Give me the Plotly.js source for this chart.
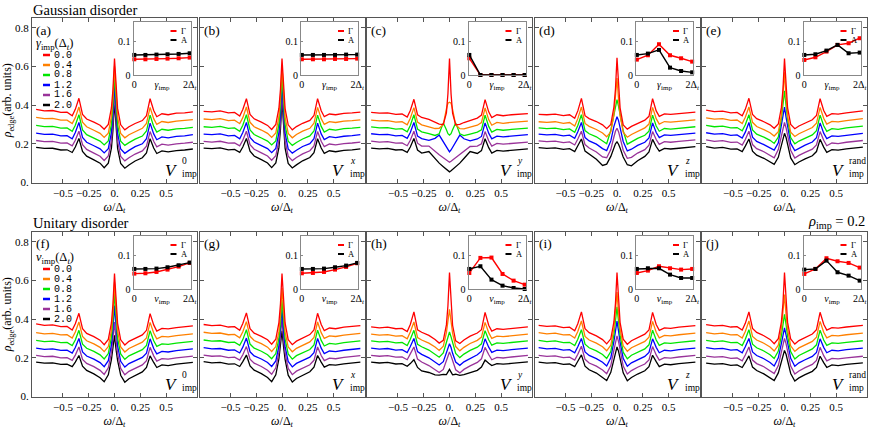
<!DOCTYPE html>
<html><head><meta charset="utf-8">
<script src="https://cdn.plot.ly/plotly-3.0.1.min.js"></script>
<style>html,body{margin:0;padding:0;background:#fff}</style>
</head><body><div id="chart" style="width:872px;height:430px"></div>
<script>
// ---------------- data ----------------
const omega = [-0.76,-0.68,-0.6,-0.52,-0.46,-0.41,-0.38,-0.345,-0.31,-0.27,-0.2,-0.14,-0.1,-0.06,-0.03,-0.015,0,0.015,0.03,0.06,0.1,0.14,0.2,0.27,0.31,0.345,0.38,0.41,0.46,0.52,0.6,0.68,0.76];
const disorderValues = ['0.0','0.4','0.8','1.2','1.6','2.0'];
const insetX = [0,0.4,0.8,1.2,1.6,2.0];
const panelLetters = ['(a)','(b)','(c)','(d)','(e)','(f)','(g)','(h)','(i)','(j)'];
const potentialSup = ['0','x','y','z','rand','0','x','y','z','rand'];

// Gaussian disorder, V0
const G_V0 = [
[0.378,0.370,0.372,0.362,0.363,0.345,0.378,0.435,0.352,0.328,0.312,0.296,0.275,0.300,0.385,0.480,0.640,0.478,0.383,0.298,0.272,0.288,0.305,0.320,0.345,0.433,0.372,0.340,0.355,0.350,0.358,0.360,0.365],
[0.336,0.330,0.331,0.322,0.322,0.305,0.335,0.390,0.312,0.288,0.270,0.254,0.233,0.255,0.340,0.440,0.600,0.438,0.338,0.253,0.231,0.247,0.264,0.280,0.305,0.388,0.330,0.300,0.315,0.310,0.317,0.320,0.325],
[0.295,0.289,0.290,0.281,0.282,0.265,0.296,0.350,0.272,0.247,0.229,0.214,0.194,0.215,0.300,0.400,0.560,0.398,0.298,0.213,0.192,0.206,0.224,0.240,0.266,0.348,0.290,0.260,0.275,0.270,0.277,0.280,0.285],
[0.255,0.249,0.250,0.241,0.242,0.226,0.258,0.310,0.233,0.208,0.190,0.174,0.153,0.175,0.258,0.355,0.510,0.352,0.255,0.173,0.151,0.166,0.185,0.200,0.226,0.307,0.251,0.221,0.236,0.231,0.238,0.241,0.247],
[0.217,0.211,0.212,0.203,0.204,0.189,0.218,0.265,0.196,0.171,0.152,0.136,0.114,0.137,0.215,0.310,0.460,0.308,0.213,0.135,0.112,0.128,0.147,0.163,0.188,0.263,0.213,0.184,0.198,0.193,0.200,0.203,0.208],
[0.182,0.176,0.177,0.168,0.169,0.155,0.183,0.228,0.161,0.136,0.117,0.100,0.076,0.100,0.178,0.270,0.420,0.268,0.176,0.098,0.074,0.090,0.111,0.128,0.153,0.226,0.178,0.150,0.163,0.158,0.165,0.168,0.173]];
// Gaussian disorder, Vx
const G_Vx = [
[0.368,0.365,0.370,0.360,0.362,0.344,0.377,0.433,0.352,0.329,0.312,0.295,0.274,0.300,0.384,0.480,0.640,0.478,0.382,0.298,0.272,0.289,0.306,0.321,0.346,0.433,0.371,0.340,0.354,0.350,0.357,0.360,0.364],
[0.328,0.325,0.330,0.320,0.322,0.304,0.335,0.390,0.311,0.288,0.271,0.254,0.233,0.256,0.340,0.440,0.600,0.438,0.338,0.254,0.231,0.248,0.265,0.280,0.306,0.388,0.330,0.300,0.314,0.310,0.317,0.320,0.324],
[0.288,0.285,0.290,0.280,0.282,0.265,0.296,0.350,0.272,0.248,0.230,0.214,0.194,0.215,0.300,0.398,0.555,0.396,0.298,0.213,0.192,0.207,0.225,0.241,0.266,0.348,0.290,0.260,0.275,0.271,0.278,0.281,0.285],
[0.250,0.247,0.251,0.241,0.243,0.226,0.258,0.310,0.233,0.209,0.191,0.175,0.154,0.176,0.258,0.355,0.510,0.352,0.255,0.174,0.152,0.167,0.186,0.201,0.226,0.307,0.251,0.222,0.237,0.232,0.239,0.242,0.247],
[0.212,0.209,0.213,0.203,0.205,0.189,0.218,0.265,0.196,0.172,0.153,0.137,0.115,0.138,0.217,0.313,0.465,0.311,0.215,0.136,0.113,0.129,0.148,0.164,0.189,0.263,0.213,0.185,0.199,0.194,0.201,0.204,0.209],
[0.178,0.175,0.179,0.169,0.171,0.156,0.183,0.228,0.162,0.137,0.118,0.101,0.077,0.101,0.180,0.273,0.425,0.271,0.178,0.099,0.075,0.091,0.112,0.129,0.154,0.226,0.178,0.151,0.164,0.159,0.166,0.169,0.174]];
// Gaussian disorder, Vy
const G_Vy = [
[0.362,0.358,0.360,0.352,0.354,0.338,0.372,0.430,0.350,0.336,0.326,0.312,0.302,0.300,0.360,0.460,0.640,0.458,0.358,0.298,0.300,0.310,0.322,0.333,0.348,0.428,0.365,0.335,0.350,0.345,0.350,0.352,0.356],
[0.322,0.318,0.320,0.312,0.314,0.298,0.332,0.387,0.312,0.298,0.288,0.279,0.280,0.300,0.380,0.410,0.415,0.410,0.378,0.298,0.278,0.277,0.286,0.296,0.310,0.385,0.325,0.296,0.311,0.306,0.311,0.313,0.317],
[0.287,0.282,0.284,0.276,0.278,0.262,0.295,0.350,0.276,0.262,0.253,0.243,0.252,0.308,0.272,0.252,0.245,0.252,0.272,0.308,0.252,0.242,0.250,0.260,0.272,0.348,0.290,0.260,0.274,0.270,0.274,0.277,0.281],
[0.252,0.247,0.249,0.241,0.243,0.228,0.258,0.310,0.240,0.227,0.218,0.228,0.245,0.208,0.182,0.168,0.158,0.168,0.182,0.208,0.245,0.226,0.215,0.225,0.238,0.308,0.255,0.226,0.240,0.236,0.240,0.243,0.247],
[0.214,0.209,0.211,0.203,0.205,0.190,0.218,0.265,0.203,0.188,0.188,0.160,0.143,0.128,0.116,0.110,0.105,0.110,0.116,0.128,0.143,0.162,0.186,0.188,0.200,0.263,0.216,0.188,0.202,0.198,0.202,0.205,0.209],
[0.178,0.174,0.176,0.168,0.170,0.156,0.183,0.228,0.168,0.152,0.160,0.122,0.100,0.082,0.068,0.061,0.055,0.061,0.068,0.082,0.100,0.124,0.160,0.150,0.165,0.226,0.180,0.152,0.166,0.162,0.166,0.170,0.174]];
// Gaussian disorder, Vz
const G_Vz = [
[0.352,0.350,0.353,0.346,0.350,0.332,0.370,0.435,0.345,0.330,0.315,0.298,0.278,0.300,0.390,0.482,0.645,0.480,0.386,0.298,0.276,0.290,0.306,0.322,0.342,0.433,0.370,0.342,0.355,0.352,0.356,0.360,0.364],
[0.314,0.311,0.314,0.306,0.310,0.292,0.330,0.390,0.305,0.290,0.274,0.256,0.236,0.262,0.350,0.430,0.540,0.428,0.347,0.260,0.234,0.248,0.265,0.282,0.302,0.388,0.330,0.302,0.315,0.312,0.316,0.320,0.324],
[0.282,0.278,0.281,0.273,0.277,0.259,0.295,0.350,0.268,0.252,0.236,0.217,0.200,0.270,0.350,0.395,0.428,0.393,0.347,0.268,0.198,0.210,0.228,0.244,0.265,0.348,0.292,0.265,0.279,0.276,0.280,0.284,0.288],
[0.250,0.246,0.249,0.241,0.245,0.228,0.262,0.310,0.232,0.215,0.198,0.175,0.165,0.215,0.290,0.322,0.340,0.320,0.287,0.212,0.163,0.172,0.192,0.208,0.230,0.308,0.258,0.232,0.246,0.243,0.247,0.251,0.255],
[0.215,0.211,0.214,0.206,0.210,0.194,0.225,0.265,0.196,0.178,0.158,0.132,0.128,0.170,0.235,0.265,0.280,0.263,0.232,0.167,0.125,0.130,0.152,0.170,0.193,0.263,0.222,0.197,0.211,0.208,0.212,0.216,0.220],
[0.180,0.176,0.179,0.171,0.175,0.160,0.190,0.225,0.162,0.145,0.120,0.088,0.095,0.135,0.180,0.200,0.210,0.198,0.178,0.132,0.092,0.086,0.112,0.135,0.158,0.223,0.186,0.162,0.176,0.173,0.177,0.181,0.185]];
// Gaussian disorder, Vrand
const G_Vr = [
[0.374,0.366,0.369,0.360,0.362,0.345,0.378,0.435,0.352,0.330,0.314,0.298,0.280,0.302,0.388,0.482,0.640,0.480,0.385,0.300,0.278,0.292,0.308,0.324,0.346,0.433,0.372,0.342,0.356,0.353,0.360,0.364,0.370],
[0.334,0.327,0.330,0.321,0.323,0.305,0.337,0.390,0.311,0.289,0.273,0.257,0.240,0.262,0.345,0.440,0.570,0.438,0.342,0.260,0.238,0.252,0.268,0.284,0.306,0.388,0.332,0.302,0.316,0.313,0.320,0.324,0.330],
[0.295,0.288,0.291,0.282,0.284,0.267,0.298,0.350,0.272,0.250,0.234,0.218,0.202,0.235,0.330,0.400,0.474,0.398,0.327,0.232,0.200,0.214,0.230,0.246,0.268,0.348,0.293,0.264,0.278,0.275,0.282,0.286,0.291],
[0.257,0.250,0.253,0.244,0.246,0.230,0.260,0.310,0.234,0.212,0.196,0.180,0.167,0.205,0.290,0.340,0.390,0.338,0.287,0.202,0.165,0.177,0.193,0.209,0.231,0.308,0.255,0.227,0.241,0.238,0.245,0.249,0.254],
[0.220,0.213,0.216,0.207,0.209,0.193,0.222,0.265,0.196,0.175,0.159,0.142,0.128,0.170,0.245,0.285,0.310,0.283,0.242,0.167,0.126,0.140,0.156,0.172,0.194,0.263,0.218,0.190,0.204,0.201,0.208,0.212,0.217],
[0.185,0.178,0.181,0.172,0.174,0.160,0.188,0.225,0.162,0.141,0.125,0.108,0.094,0.130,0.200,0.235,0.254,0.233,0.197,0.127,0.092,0.106,0.122,0.138,0.160,0.223,0.183,0.156,0.170,0.167,0.174,0.178,0.183]];
// Unitary disorder, V0
const U_V0 = [
[0.375,0.368,0.370,0.361,0.362,0.344,0.376,0.430,0.350,0.326,0.309,0.291,0.268,0.295,0.380,0.476,0.636,0.474,0.378,0.293,0.266,0.285,0.302,0.318,0.342,0.428,0.370,0.338,0.352,0.349,0.356,0.360,0.365],
[0.330,0.324,0.326,0.318,0.319,0.302,0.333,0.385,0.310,0.288,0.272,0.254,0.232,0.258,0.340,0.435,0.590,0.433,0.338,0.256,0.230,0.248,0.265,0.281,0.303,0.383,0.328,0.298,0.311,0.308,0.315,0.319,0.324],
[0.290,0.284,0.286,0.278,0.279,0.263,0.292,0.342,0.270,0.249,0.233,0.215,0.194,0.222,0.305,0.395,0.540,0.393,0.302,0.220,0.192,0.210,0.226,0.242,0.264,0.340,0.288,0.259,0.272,0.269,0.276,0.280,0.285],
[0.250,0.244,0.246,0.238,0.239,0.224,0.253,0.300,0.230,0.209,0.193,0.175,0.154,0.185,0.265,0.345,0.470,0.343,0.262,0.182,0.152,0.170,0.186,0.202,0.224,0.298,0.248,0.220,0.233,0.230,0.237,0.241,0.246],
[0.212,0.206,0.208,0.200,0.201,0.187,0.214,0.256,0.192,0.171,0.154,0.135,0.114,0.148,0.225,0.290,0.385,0.288,0.222,0.145,0.112,0.130,0.147,0.163,0.185,0.254,0.210,0.183,0.196,0.193,0.200,0.204,0.209],
[0.178,0.172,0.174,0.166,0.167,0.154,0.178,0.212,0.157,0.135,0.117,0.097,0.076,0.112,0.190,0.245,0.316,0.243,0.187,0.110,0.074,0.092,0.110,0.127,0.150,0.210,0.176,0.150,0.163,0.160,0.167,0.171,0.176]];
// Unitary disorder, Vx
const U_Vx = [
[0.372,0.366,0.369,0.359,0.361,0.342,0.377,0.432,0.350,0.327,0.311,0.293,0.270,0.296,0.382,0.478,0.636,0.476,0.380,0.294,0.268,0.286,0.303,0.320,0.344,0.430,0.372,0.340,0.354,0.350,0.358,0.361,0.366],
[0.332,0.326,0.328,0.319,0.321,0.303,0.335,0.387,0.311,0.289,0.273,0.255,0.233,0.258,0.335,0.420,0.560,0.418,0.333,0.256,0.231,0.249,0.266,0.282,0.305,0.385,0.330,0.300,0.313,0.310,0.317,0.321,0.326],
[0.292,0.286,0.288,0.279,0.281,0.264,0.294,0.345,0.271,0.250,0.234,0.216,0.195,0.222,0.300,0.380,0.500,0.378,0.297,0.220,0.193,0.211,0.227,0.243,0.266,0.343,0.290,0.261,0.274,0.271,0.278,0.282,0.287],
[0.252,0.246,0.248,0.239,0.241,0.225,0.255,0.302,0.231,0.210,0.194,0.176,0.155,0.184,0.262,0.340,0.450,0.338,0.259,0.181,0.153,0.171,0.187,0.203,0.226,0.300,0.250,0.222,0.235,0.232,0.239,0.243,0.248],
[0.214,0.208,0.210,0.201,0.203,0.188,0.216,0.258,0.193,0.172,0.155,0.136,0.115,0.148,0.228,0.300,0.400,0.298,0.225,0.145,0.113,0.131,0.148,0.164,0.187,0.256,0.212,0.185,0.198,0.195,0.202,0.206,0.211],
[0.180,0.174,0.176,0.167,0.169,0.155,0.180,0.214,0.158,0.136,0.118,0.098,0.077,0.112,0.195,0.260,0.340,0.258,0.192,0.110,0.075,0.093,0.111,0.128,0.152,0.212,0.178,0.152,0.165,0.162,0.169,0.173,0.178]];
// Unitary disorder, Vy
const U_Vy = [
[0.360,0.355,0.358,0.350,0.352,0.336,0.372,0.437,0.345,0.332,0.316,0.295,0.276,0.290,0.370,0.470,0.640,0.468,0.368,0.288,0.274,0.292,0.312,0.328,0.345,0.435,0.368,0.338,0.350,0.347,0.352,0.356,0.360],
[0.322,0.317,0.320,0.312,0.314,0.298,0.333,0.385,0.305,0.292,0.276,0.256,0.238,0.260,0.330,0.390,0.450,0.388,0.328,0.258,0.236,0.254,0.274,0.290,0.307,0.383,0.330,0.300,0.312,0.309,0.314,0.318,0.322],
[0.287,0.282,0.285,0.277,0.279,0.263,0.296,0.342,0.270,0.257,0.240,0.220,0.203,0.225,0.280,0.310,0.333,0.308,0.278,0.223,0.201,0.219,0.238,0.255,0.272,0.340,0.293,0.265,0.277,0.274,0.279,0.283,0.287],
[0.250,0.245,0.248,0.240,0.242,0.227,0.258,0.300,0.232,0.218,0.200,0.180,0.163,0.180,0.225,0.255,0.273,0.253,0.223,0.178,0.161,0.179,0.198,0.216,0.234,0.298,0.255,0.228,0.240,0.237,0.242,0.246,0.250],
[0.213,0.208,0.211,0.203,0.205,0.190,0.220,0.256,0.193,0.178,0.160,0.140,0.124,0.140,0.185,0.212,0.230,0.210,0.183,0.138,0.122,0.140,0.158,0.176,0.195,0.254,0.217,0.190,0.202,0.199,0.204,0.208,0.212],
[0.178,0.173,0.176,0.168,0.170,0.156,0.170,0.190,0.150,0.132,0.124,0.112,0.110,0.114,0.113,0.128,0.140,0.126,0.112,0.115,0.109,0.113,0.124,0.135,0.152,0.188,0.172,0.160,0.170,0.167,0.171,0.175,0.179]];
// Unitary disorder, Vz
const U_Vz = [
[0.368,0.362,0.365,0.356,0.358,0.340,0.376,0.437,0.350,0.330,0.313,0.294,0.272,0.298,0.385,0.480,0.640,0.478,0.382,0.296,0.270,0.288,0.305,0.322,0.344,0.435,0.372,0.342,0.355,0.352,0.358,0.362,0.366],
[0.330,0.324,0.327,0.318,0.320,0.302,0.336,0.390,0.310,0.292,0.276,0.257,0.236,0.265,0.350,0.430,0.540,0.428,0.347,0.262,0.234,0.252,0.268,0.285,0.306,0.388,0.332,0.303,0.316,0.313,0.319,0.323,0.327],
[0.290,0.284,0.287,0.278,0.280,0.263,0.296,0.345,0.270,0.252,0.236,0.217,0.197,0.232,0.320,0.390,0.463,0.388,0.317,0.229,0.195,0.213,0.229,0.246,0.267,0.343,0.292,0.264,0.277,0.274,0.280,0.284,0.288],
[0.252,0.246,0.249,0.240,0.242,0.226,0.257,0.300,0.230,0.212,0.196,0.177,0.158,0.200,0.285,0.340,0.389,0.338,0.282,0.197,0.156,0.174,0.190,0.207,0.228,0.298,0.254,0.226,0.239,0.236,0.242,0.246,0.250],
[0.213,0.207,0.210,0.201,0.203,0.188,0.218,0.260,0.192,0.173,0.157,0.137,0.118,0.160,0.240,0.285,0.313,0.283,0.237,0.157,0.116,0.134,0.151,0.168,0.189,0.258,0.215,0.188,0.201,0.198,0.204,0.208,0.212],
[0.178,0.172,0.175,0.166,0.168,0.154,0.182,0.215,0.157,0.138,0.121,0.100,0.083,0.125,0.195,0.235,0.256,0.233,0.192,0.122,0.081,0.098,0.116,0.133,0.154,0.213,0.180,0.154,0.167,0.164,0.170,0.174,0.178]];
// Unitary disorder, Vrand
const U_Vr = [
[0.371,0.365,0.368,0.359,0.361,0.343,0.378,0.437,0.352,0.331,0.314,0.295,0.273,0.299,0.386,0.480,0.640,0.478,0.383,0.297,0.271,0.289,0.306,0.323,0.345,0.435,0.373,0.343,0.356,0.353,0.359,0.363,0.368],
[0.330,0.324,0.327,0.318,0.320,0.302,0.336,0.390,0.310,0.292,0.275,0.256,0.235,0.265,0.350,0.425,0.527,0.423,0.347,0.262,0.233,0.251,0.268,0.285,0.306,0.388,0.332,0.303,0.316,0.313,0.319,0.323,0.327],
[0.290,0.284,0.287,0.278,0.280,0.263,0.296,0.345,0.270,0.252,0.235,0.216,0.196,0.235,0.315,0.375,0.425,0.373,0.312,0.232,0.194,0.212,0.229,0.246,0.267,0.343,0.292,0.264,0.277,0.274,0.280,0.284,0.288],
[0.252,0.246,0.249,0.240,0.242,0.226,0.257,0.300,0.230,0.212,0.195,0.176,0.158,0.200,0.275,0.320,0.354,0.318,0.272,0.197,0.156,0.174,0.190,0.207,0.228,0.298,0.254,0.226,0.239,0.236,0.242,0.246,0.250],
[0.209,0.203,0.206,0.197,0.199,0.184,0.214,0.256,0.188,0.170,0.154,0.134,0.118,0.160,0.235,0.275,0.300,0.273,0.232,0.157,0.116,0.132,0.149,0.166,0.186,0.254,0.211,0.184,0.197,0.194,0.200,0.204,0.208],
[0.173,0.167,0.170,0.161,0.163,0.150,0.176,0.210,0.152,0.134,0.117,0.097,0.082,0.122,0.185,0.220,0.238,0.218,0.182,0.119,0.080,0.096,0.113,0.130,0.150,0.208,0.175,0.150,0.163,0.160,0.166,0.170,0.174]];

// inset data (Gamma = red, A = black), one row per panel (a)..(j)
const insetGamma = [
[0.047,0.047,0.048,0.049,0.050,0.052],
[0.047,0.047,0.047,0.048,0.048,0.049],
[0.050,0.000,0.000,0.000,0.000,0.000],
[0.046,0.059,0.092,0.059,0.050,0.040],
[0.045,0.053,0.070,0.090,0.095,0.110],
[0.046,0.047,0.051,0.058,0.067,0.078],
[0.047,0.048,0.051,0.058,0.066,0.077],
[0.048,0.093,0.094,0.045,0.025,0.013],
[0.048,0.055,0.068,0.062,0.058,0.060],
[0.045,0.060,0.092,0.083,0.078,0.064]];
const insetA = [
[0.060,0.060,0.061,0.062,0.063,0.065],
[0.060,0.060,0.060,0.060,0.061,0.061],
[0.060,0.000,0.000,0.000,0.000,0.000],
[0.060,0.064,0.075,0.022,0.012,0.008],
[0.060,0.062,0.073,0.090,0.065,0.067],
[0.060,0.060,0.061,0.065,0.071,0.079],
[0.060,0.060,0.061,0.065,0.070,0.078],
[0.060,0.068,0.028,0.010,0.003,0.000],
[0.060,0.062,0.062,0.043,0.033,0.033],
[0.058,0.060,0.085,0.050,0.040,0.025]];

// ---------------- styling / layout ----------------
const W = 872, H = 430;
const colors = ['#ff0000','#ff8000','#00e600','#0000ff','#993399','#000000'];
const SERIF = 'Liberation Serif, DejaVu Serif, serif';
const MONO = 'Liberation Mono, DejaVu Sans Mono, monospace';
const colLeft = [32, 199.5, 367, 534.5, 702];
const rowTop = [18, 232];
const PW = 165, PH = 164.5;
const panels = [G_V0,G_Vx,G_Vy,G_Vz,G_Vr,U_V0,U_Vx,U_Vy,U_Vz,U_Vr];

const fx = p => p / W;
const fy = p => 1 - p / H;
const axId = n => (n === 1 ? '' : String(n));

const traces = [];
const layout = {
  width: W, height: H, margin: {l:0, r:0, t:0, b:0},
  paper_bgcolor: '#fff', plot_bgcolor: 'rgba(0,0,0,0)',
  showlegend: false, hovermode: false,
  font: {family: SERIF, color: '#000', size: 11},
  annotations: [], shapes: []
};
const ann = (x, y, text, size, opts) => Object.assign({xref:'paper', yref:'paper', x: fx(x), y: fy(y),
  xanchor:'left', yanchor:'middle', text, showarrow:false, font:{size, family: SERIF}}, opts || {});

panels.forEach((P, i) => {
  const n = i + 1, col = i % 5, row = Math.floor(i / 5);
  const L = colLeft[col], R = L + PW, T = rowTop[row], B = T + PH;
  for (let k = P.length - 1; k >= 0; k--) {
    traces.push({x: omega, y: P[k], type: 'scatter', mode: 'lines', name: disorderValues[k],
      line: {color: colors[k], width: 1.3}, xaxis: 'x' + axId(n), yaxis: 'y' + axId(n)});
  }
  layout['xaxis' + axId(n)] = {
    domain: [fx(L), fx(R)], range: [-0.8, 0.8], anchor: 'y' + axId(n),
    tickvals: [-0.5, -0.25, 0, 0.25, 0.5], ticktext: ['\u22120.5', '\u22120.25', '0.', '0.25', '0.5'],
    ticks: 'inside', ticklen: 4, tickcolor: '#555', showline: true, linecolor: '#555', linewidth: 1,
    mirror: 'ticks', showgrid: false, zeroline: false, tickfont: {size: 11, family: SERIF},
    title: {text: '<i>ω</i>/Δ<sub><i>t</i></sub>', font: {size: 12, family: SERIF}, standoff: 4},
    fixedrange: true
  };
  const yax = {
    domain: [fy(B), fy(T)], range: [0, 0.85], anchor: 'x' + axId(n),
    tickvals: [0, 0.2, 0.4, 0.6, 0.8], ticktext: ['0.', '0.2', '0.4', '0.6', '0.8'],
    showticklabels: col === 0, ticks: 'inside', ticklen: 4, tickcolor: '#555',
    showline: true, linecolor: '#555', linewidth: 1, mirror: 'ticks',
    showgrid: false, zeroline: false, tickfont: {size: 11, family: SERIF}, fixedrange: true
  };
  if (col === 0) yax.title = {text: '<i>ρ</i><sub>edge</sub>(arb. units)', font: {size: 12, family: SERIF}, standoff: 2};
  layout['yaxis' + axId(n)] = yax;

  // panel label
  layout.annotations.push(ann(L + 2, T + 12, panelLetters[i], 13.5));
  // potential label V^s_imp (superscript stacked over subscript)
  const sup = potentialSup[i];
  const x0 = R - (sup === 'rand' ? 20 : 17);
  const vy = row === 0 ? 170 : 384;
  layout.annotations.push(ann(x0 - 0.5, vy, '<i>V</i>', 17, {xanchor:'right'}));
  layout.annotations.push(ann(x0, vy - 9.5, (sup === 'rand' || sup === '0') ? sup : '<i>' + sup + '</i>', 9.5));
  layout.annotations.push(ann(x0, vy + 4, 'imp', 9.5));

  // inset
  const m = 10 + n;
  const IL = L + 101.5, IR = L + 158.5;
  const IT = row === 0 ? 21.5 : 235.5, IB = row === 0 ? 75 : 289;
  traces.push({x: insetX, y: insetGamma[i], type:'scatter', mode:'lines+markers', name:'Γ',
    line:{color:'#ff0000', width:1.4}, marker:{symbol:'square', size:4, color:'#ff0000'},
    xaxis:'x' + m, yaxis:'y' + m, cliponaxis:false});
  traces.push({x: insetX, y: insetA[i], type:'scatter', mode:'lines+markers', name:'A',
    line:{color:'#000000', width:1.4}, marker:{symbol:'square', size:4, color:'#000000'},
    xaxis:'x' + m, yaxis:'y' + m, cliponaxis:false});
  layout['xaxis' + m] = {
    domain: [fx(IL), fx(IR)], range: [-0.03, 2.03], anchor: 'y' + m,
    tickvals: [0, 1, 2],
    ticktext: ['0', row === 0 ? '<i>γ</i><sub>imp</sub>' : '<i>v</i><sub>imp</sub>', '2Δ<sub><i>t</i></sub>'],
    ticks: '', showline: true, linecolor: '#888', linewidth: 1, mirror: true,
    showgrid: false, zeroline: false, tickfont: {size: 10, family: SERIF}, fixedrange: true
  };
  layout['yaxis' + m] = {
    domain: [fy(IB), fy(IT)], range: [0, 0.16], anchor: 'x' + m,
    tickvals: [0, 0.1], ticktext: ['0', '0.1'],
    ticks: 'inside', ticklen: 2, tickcolor: '#888', showline: true, linecolor: '#888', linewidth: 1, mirror: true,
    showgrid: false, zeroline: false, tickfont: {size: 10, family: SERIF}, fixedrange: true
  };
  // inset legend
  [['Γ', '#ff0000', 9.5], ['A', '#000000', 18.5]].forEach(([lab, c, dy]) => {
    layout.shapes.push({type:'line', xref:'paper', yref:'paper', x0: fx(IR - 20), x1: fx(IR - 14),
      y0: fy(IT + dy), y1: fy(IT + dy), line:{color: c, width: 2}});
    layout.annotations.push(ann(IR - 12, IT + dy, lab, 8.5));
  });
});

// main legends in (a) and (f)
[0, 1].forEach(row => {
  const T = rowTop[row];
  layout.annotations.push(ann(34, T + 25.5,
    row === 0 ? '<i>γ</i><sub>imp</sub>(Δ<sub><i>t</i></sub>)' : '<i>v</i><sub>imp</sub>(Δ<sub><i>t</i></sub>)', 12.5));
  disorderValues.forEach((v, k) => {
    const yy = T + 37 + 10 * k;
    layout.shapes.push({type:'line', xref:'paper', yref:'paper', x0: fx(43), x1: fx(50), y0: fy(yy), y1: fy(yy),
      line:{color: colors[k], width: 2.5}});
    layout.annotations.push(ann(52, yy, v, 10, {font:{size:10, family: MONO}}));
  });
});

// row titles and density label
layout.annotations.push(ann(31, 10, 'Gaussian disorder', 14.5));
layout.annotations.push(ann(31, 223, 'Unitary disorder', 14.5));
layout.annotations.push(ann(867, 222, '<i>ρ</i><sub>imp</sub> = 0.2', 14.5, {xanchor:'right'}));

Plotly.newPlot('chart', traces, layout, {staticPlot: true, displayModeBar: false});
</script>
</body></html>
